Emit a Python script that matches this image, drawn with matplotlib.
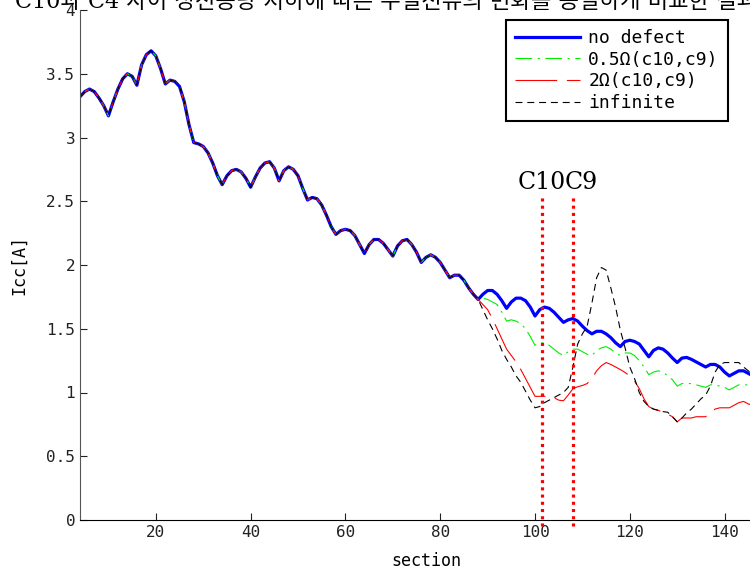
import matplotlib.pyplot as plt
import numpy as np

plt.rcParams['font.family'] = ['DejaVu Sans Mono', 'Noto Sans CJK KR']
plt.rcParams['lines.scale_dashes'] = False

# sections 4..88: all four cases lie on the same curve
section_common = np.arange(4, 89)
icc_common = [3.32, 3.36, 3.38, 3.36, 3.31, 3.25, 3.17, 3.28, 3.38, 3.46,
              3.50, 3.48, 3.41, 3.57, 3.65, 3.68, 3.64, 3.54, 3.42, 3.45,
              3.44, 3.40, 3.28, 3.10, 2.96, 2.95, 2.93, 2.88, 2.80, 2.70,
              2.63, 2.70, 2.74, 2.75, 2.73, 2.68, 2.61, 2.69, 2.76, 2.80,
              2.81, 2.76, 2.66, 2.74, 2.77, 2.75, 2.70, 2.60, 2.51, 2.53,
              2.52, 2.47, 2.39, 2.30, 2.24, 2.27, 2.28, 2.27, 2.23, 2.16,
              2.09, 2.16, 2.20, 2.20, 2.17, 2.12, 2.07, 2.15, 2.19, 2.20,
              2.16, 2.10, 2.02, 2.06, 2.08, 2.06, 2.02, 1.96, 1.90, 1.92,
              1.92, 1.88, 1.82, 1.77, 1.73]

# sections 89..146: the cases split apart
section_tail = np.arange(89, 147)
icc_no_defect = [1.77, 1.80, 1.80, 1.77, 1.72, 1.66, 1.71, 1.74, 1.74, 1.72,
                 1.67, 1.60, 1.65, 1.67, 1.66, 1.63, 1.59, 1.55, 1.57, 1.58,
                 1.56, 1.52, 1.485, 1.46, 1.48, 1.48, 1.46, 1.43, 1.39, 1.36,
                 1.40, 1.41, 1.40, 1.38, 1.33, 1.28, 1.33, 1.35, 1.34, 1.31,
                 1.27, 1.235, 1.27, 1.275, 1.26, 1.24, 1.22, 1.20, 1.22, 1.22,
                 1.20, 1.16, 1.13, 1.15, 1.17, 1.17, 1.15, 1.13]
icc_half_ohm = [1.74, 1.73, 1.71, 1.69, 1.63, 1.56, 1.57, 1.56, 1.54, 1.50,
                1.44, 1.37, 1.39, 1.39, 1.37, 1.34, 1.31, 1.29, 1.32, 1.34,
                1.34, 1.32, 1.30, 1.29, 1.33, 1.35, 1.36, 1.34, 1.31, 1.29,
                1.31, 1.31, 1.29, 1.25, 1.20, 1.14, 1.16, 1.17, 1.16, 1.13,
                1.10, 1.05, 1.07, 1.07, 1.07, 1.06, 1.05, 1.04, 1.06, 1.06,
                1.05, 1.04, 1.02, 1.04, 1.06, 1.06, 1.06, 1.05]
icc_two_ohm = [1.69, 1.65, 1.58, 1.50, 1.42, 1.34, 1.29, 1.24, 1.18, 1.11,
               1.04, 0.97, 0.97, 0.97, 0.97, 0.96, 0.94, 0.935, 0.98, 1.03,
               1.045, 1.055, 1.07, 1.11, 1.17, 1.21, 1.235, 1.22, 1.20, 1.18,
               1.157, 1.13, 1.09, 1.03, 0.95, 0.89, 0.87, 0.86, 0.845, 0.83,
               0.81, 0.77, 0.80, 0.80, 0.80, 0.81, 0.81, 0.81, 0.84, 0.87,
               0.88, 0.88, 0.88, 0.90, 0.92, 0.93, 0.91, 0.90]
icc_infinite = [1.65, 1.57, 1.50, 1.42, 1.33, 1.26, 1.20, 1.13, 1.08, 1.01,
                0.94, 0.88, 0.89, 0.92, 0.94, 0.96, 0.98, 1.00, 1.04, 1.20,
                1.38, 1.46, 1.52, 1.70, 1.90, 1.98, 1.96, 1.82, 1.67, 1.49,
                1.35, 1.20, 1.11, 1.00, 0.93, 0.89, 0.87, 0.86, 0.85, 0.845,
                0.81, 0.77, 0.80, 0.84, 0.87, 0.91, 0.95, 0.98, 1.05, 1.16,
                1.22, 1.235, 1.235, 1.235, 1.235, 1.20, 1.17, 1.14]

fault_sections = [101.5, 108]
fault_labels = ['C10', 'C9']
title = 'C10과 C4 사이 정전용량 저하에 따른 누설전류의 변화를 동일하게 비교한 결과'

section = np.concatenate([section_common, section_tail])

fig = plt.figure(figsize=(7.5, 5.72), dpi=100)
# the axes run past the right edge, as in the cropped original
ax = fig.add_axes([80 / 750, 52 / 572, 692 / 750, 510 / 572])

ax.plot(section, icc_common + icc_no_defect, color='blue', lw=2.3, label='no defect')
ax.plot(section, icc_common + icc_half_ohm, color='#00ee00', lw=0.8,
        linestyle=(0, (12, 4, 1.5, 4)), label='0.5Ω(c10,c9)')
ax.plot(section, icc_common + icc_two_ohm, color='red', lw=0.8,
        linestyle=(0, (30, 7)), label='2Ω(c10,c9)')
ax.plot(section, icc_common + icc_infinite, color='black', lw=0.8,
        linestyle=(0, (5, 3.5)), label='infinite')

# fault positions
for xs in fault_sections:
    ax.plot([xs, xs], [-0.05, 2.55], color='red', lw=2.3,
            linestyle=(0, (2.2, 3.0)), clip_on=False)
ax.annotate(fault_labels[0], (fault_sections[0], 2.56), xytext=(0, 0),
            textcoords='offset pixels', ha='center', va='bottom',
            fontsize=17, family=['DejaVu Serif'])
ax.annotate(fault_labels[1], (fault_sections[1], 2.56), xytext=(-8, 0),
            textcoords='offset pixels', ha='left', va='bottom',
            fontsize=17, family=['DejaVu Serif'])

ax.set_xlim(4, 150)
ax.set_ylim(0, 4)
ax.set_xticks([20, 40, 60, 80, 100, 120, 140])
ax.set_yticks([0, 0.5, 1, 1.5, 2, 2.5, 3, 3.5, 4])
ax.set_yticklabels(['0', '0.5', '1', '1.5', '2', '2.5', '3', '3.5', '4'])
ax.tick_params(direction='in', length=5, labelsize=11.5, colors='#222222')
ax.spines['top'].set_visible(False)
ax.spines['right'].set_visible(False)
ax.spines['left'].set_color('#555555')
ax.set_xlabel('section', fontsize=12, labelpad=9)
ax.set_ylabel('Icc[A]', fontsize=12, labelpad=13)

leg = ax.legend(loc='upper left', bbox_to_anchor=(506 / 750, 1 - 20 / 572),
                bbox_transform=fig.transFigure, borderaxespad=0, fontsize=13,
                handlelength=3.6, handletextpad=0.45, labelspacing=0.2,
                borderpad=0.5, fancybox=False, framealpha=1)
leg.get_frame().set_edgecolor('black')
leg.get_frame().set_linewidth(1.5)

fig.text(15 / 750, 1 - 8 / 572, title, va='baseline', ha='left', fontsize=16,
         family=['DejaVu Serif', 'Noto Sans CJK KR'])

fig.savefig('out.png', dpi=100)
